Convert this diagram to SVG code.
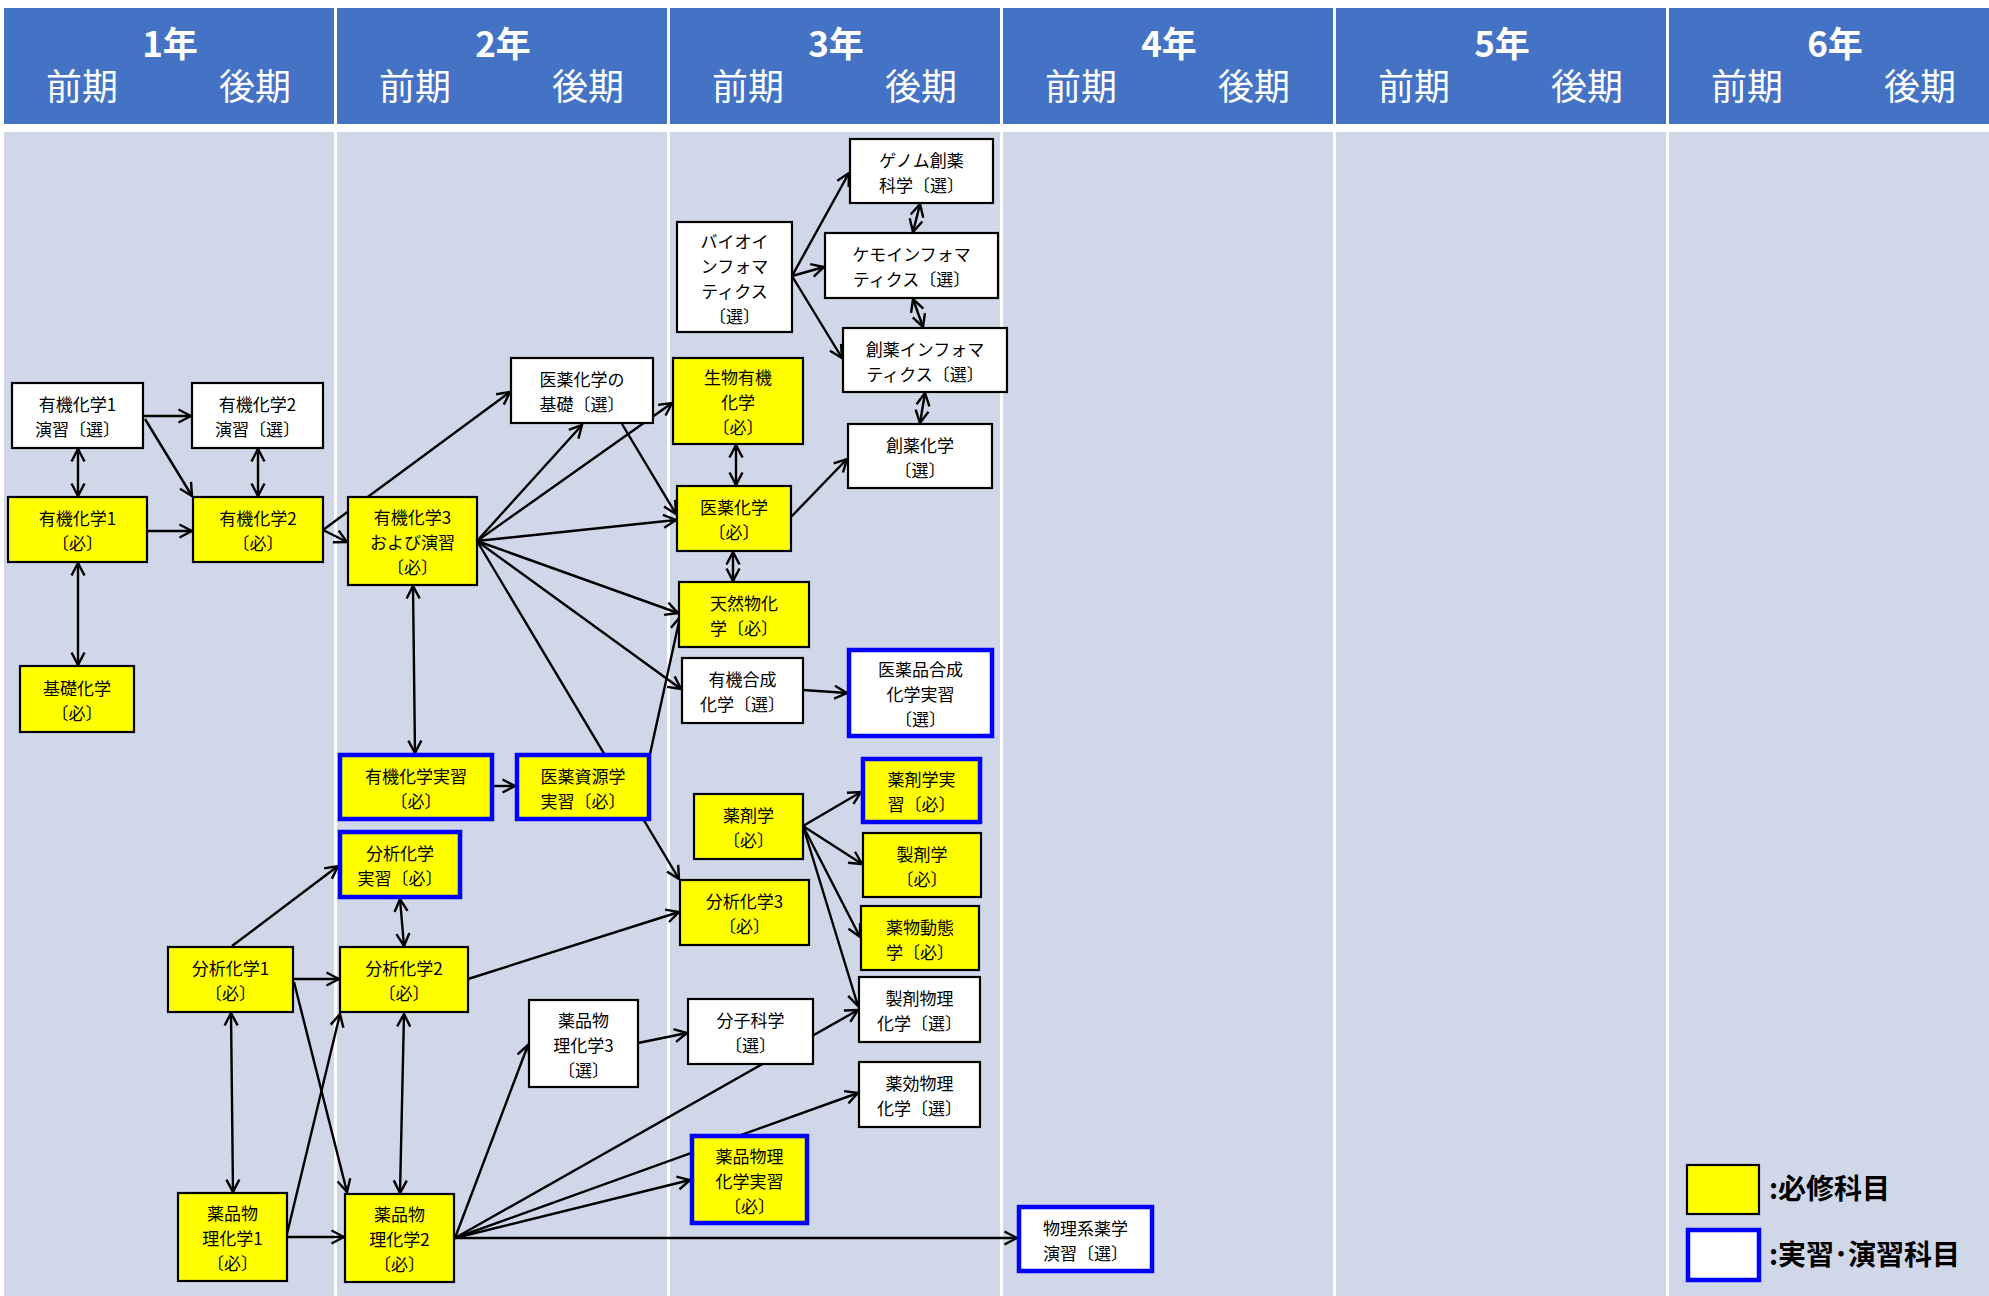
<svg xmlns="http://www.w3.org/2000/svg" width="1989" height="1296" viewBox="0 0 1989 1296">
<style>
.hd{fill:#4472C4}
.bd{fill:#D0D7E8}
.ht{font-family:"Noto Sans CJK JP","Noto Sans",sans-serif;fill:#fff;text-anchor:middle}
.n rect{stroke:#000;stroke-width:2.2}
.req rect{fill:#FFFF00}
.opt rect{fill:#fff}
.prac rect{stroke:#0000FF;stroke-width:4.5}
.n text{font-family:"Noto Sans CJK JP","Noto Sans",sans-serif;font-size:17px;fill:#000;text-anchor:middle;dominant-baseline:central}
#connectors line{stroke:#000;stroke-width:2.4;fill:none}
.a{marker-end:url(#ah)}
.d{marker-start:url(#ah);marker-end:url(#ah)}
.lg{font-family:"Noto Sans CJK JP","Noto Sans",sans-serif;font-size:28px;font-weight:bold;fill:#000}
</style>
<defs>
<marker id="ah" viewBox="0 0 16 16" refX="14" refY="8" markerWidth="16" markerHeight="16" markerUnits="userSpaceOnUse" orient="auto-start-reverse">
<path d="M1.5,1.5 L14,8 L1.5,14.5" fill="none" stroke="#000" stroke-width="2.4"/>
</marker>
</defs>
<rect width="1989" height="1296" fill="#fff"/>
<g id="table">
<rect class="hd" x="4" y="8" width="330" height="116"/>
<rect class="hd" x="337" y="8" width="330" height="116"/>
<rect class="hd" x="670" y="8" width="330" height="116"/>
<rect class="hd" x="1003" y="8" width="330" height="116"/>
<rect class="hd" x="1336" y="8" width="330" height="116"/>
<rect class="hd" x="1669" y="8" width="320" height="116"/>
<rect class="bd" x="4" y="132" width="330" height="1164"/>
<rect class="bd" x="337" y="132" width="330" height="1164"/>
<rect class="bd" x="670" y="132" width="330" height="1164"/>
<rect class="bd" x="1003" y="132" width="330" height="1164"/>
<rect class="bd" x="1336" y="132" width="330" height="1164"/>
<rect class="bd" x="1669" y="132" width="320" height="1164"/>
<g class="ht" font-size="35" font-weight="bold">
<text x="170" y="57">1年</text>
<text x="503" y="57">2年</text>
<text x="836" y="57">3年</text>
<text x="1169" y="57">4年</text>
<text x="1502" y="57">5年</text>
<text x="1835" y="57">6年</text>
</g>
<g class="ht" font-size="36">
<text x="82" y="100">前期</text><text x="255" y="100">後期</text>
<text x="415" y="100">前期</text><text x="588" y="100">後期</text>
<text x="748" y="100">前期</text><text x="921" y="100">後期</text>
<text x="1081" y="100">前期</text><text x="1254" y="100">後期</text>
<text x="1414" y="100">前期</text><text x="1587" y="100">後期</text>
<text x="1747" y="100">前期</text><text x="1920" y="100">後期</text>
</g>
</g>
<g id="connectors">
<line class="a" x1="143" y1="416" x2="191" y2="416"/>
<line class="a" x1="145" y1="419" x2="192" y2="496"/>
<line class="d" x1="78" y1="449" x2="78" y2="496"/>
<line class="d" x1="258" y1="449" x2="258" y2="496"/>
<line class="a" x1="147" y1="531" x2="192" y2="531"/>
<line class="d" x1="78" y1="563" x2="78" y2="665"/>
<line class="a" x1="323" y1="530" x2="510" y2="392"/>
<line class="a" x1="323" y1="530" x2="347" y2="542"/>
<line class="a" x1="477" y1="541" x2="582" y2="425"/>
<line class="a" x1="477" y1="541" x2="672" y2="403"/>
<line class="a" x1="477" y1="541" x2="676" y2="520"/>
<line class="a" x1="622" y1="424" x2="676" y2="514"/>
<line class="a" x1="477" y1="541" x2="678" y2="613"/>
<line class="a" x1="477" y1="541" x2="681" y2="689"/>
<line class="a" x1="477" y1="541" x2="679" y2="879"/>
<line class="a" x1="650" y1="754" x2="680" y2="617"/>
<line class="a" x1="493" y1="786" x2="515" y2="786"/>
<line class="d" x1="413" y1="586" x2="415" y2="753"/>
<line class="d" x1="736" y1="445" x2="736" y2="485"/>
<line class="d" x1="733" y1="552" x2="733" y2="581"/>
<line class="a" x1="791" y1="517" x2="847" y2="459"/>
<line class="a" x1="792" y1="276" x2="849" y2="173"/>
<line class="a" x1="792" y1="276" x2="824" y2="267"/>
<line class="a" x1="792" y1="276" x2="842" y2="358"/>
<line class="d" x1="920" y1="204" x2="913" y2="232"/>
<line class="d" x1="913" y1="299" x2="923" y2="327"/>
<line class="d" x1="925" y1="393" x2="920" y2="423"/>
<line class="a" x1="803" y1="690" x2="847" y2="693"/>
<line class="a" x1="803" y1="826" x2="861" y2="792"/>
<line class="a" x1="803" y1="826" x2="862" y2="864"/>
<line class="a" x1="803" y1="826" x2="860" y2="937"/>
<line class="a" x1="803" y1="826" x2="858" y2="1006"/>
<line class="a" x1="468" y1="979" x2="679" y2="912"/>
<line class="a" x1="232" y1="946" x2="338" y2="866"/>
<line class="d" x1="400" y1="899" x2="404" y2="946"/>
<line class="a" x1="293" y1="979" x2="339" y2="979"/>
<line class="d" x1="231" y1="1013" x2="233" y2="1192"/>
<line class="a" x1="294" y1="982" x2="347" y2="1192"/>
<line class="a" x1="287" y1="1234" x2="340" y2="1014"/>
<line class="d" x1="404" y1="1014" x2="400" y2="1193"/>
<line class="a" x1="287" y1="1237" x2="344" y2="1237"/>
<line class="a" x1="455" y1="1238" x2="528" y2="1045"/>
<line class="a" x1="455" y1="1238" x2="858" y2="1010"/>
<line class="a" x1="638" y1="1043" x2="687" y2="1033"/>
<line class="a" x1="455" y1="1238" x2="858" y2="1093"/>
<line class="a" x1="455" y1="1238" x2="690" y2="1180"/>
<line class="a" x1="455" y1="1238" x2="1017" y2="1238"/>
</g>
<g id="n1" class="n opt"><rect x="12" y="383" width="131" height="65"/><text><tspan x="77.5" y="403">有機化学1</tspan><tspan x="77.5" y="428">演習〔選〕</tspan></text></g>
<g id="n2" class="n opt"><rect x="192" y="383" width="131" height="65"/><text><tspan x="257.5" y="403">有機化学2</tspan><tspan x="257.5" y="428">演習〔選〕</tspan></text></g>
<g id="n3" class="n req"><rect x="8" y="497" width="139" height="65"/><text><tspan x="77.5" y="517">有機化学1</tspan><tspan x="77.5" y="542">〔必〕</tspan></text></g>
<g id="n4" class="n req"><rect x="193" y="497" width="130" height="65"/><text><tspan x="258" y="517">有機化学2</tspan><tspan x="258" y="542">〔必〕</tspan></text></g>
<g id="n5" class="n req"><rect x="20" y="666" width="114" height="66"/><text><tspan x="77" y="686.5">基礎化学</tspan><tspan x="77" y="711.5">〔必〕</tspan></text></g>
<g id="n6" class="n req"><rect x="348" y="497" width="129" height="88"/><text><tspan x="412.5" y="516">有機化学3</tspan><tspan x="412.5" y="541">および演習</tspan><tspan x="412.5" y="566">〔必〕</tspan></text></g>
<g id="n7" class="n opt"><rect x="511" y="358" width="142" height="65"/><text><tspan x="582" y="378">医薬化学の</tspan><tspan x="582" y="403">基礎〔選〕</tspan></text></g>
<g id="n8" class="n req prac"><rect x="340" y="755" width="152" height="64"/><text><tspan x="416" y="774.5">有機化学実習</tspan><tspan x="416" y="799.5">〔必〕</tspan></text></g>
<g id="n9" class="n req prac"><rect x="517" y="755" width="132" height="64"/><text><tspan x="583" y="774.5">医薬資源学</tspan><tspan x="583" y="799.5">実習〔必〕</tspan></text></g>
<g id="n10" class="n req prac"><rect x="340" y="832" width="120" height="65"/><text><tspan x="400" y="852">分析化学</tspan><tspan x="400" y="877">実習〔必〕</tspan></text></g>
<g id="n11" class="n req"><rect x="168" y="947" width="125" height="65"/><text><tspan x="230.5" y="967">分析化学1</tspan><tspan x="230.5" y="992">〔必〕</tspan></text></g>
<g id="n12" class="n req"><rect x="340" y="947" width="128" height="65"/><text><tspan x="404" y="967">分析化学2</tspan><tspan x="404" y="992">〔必〕</tspan></text></g>
<g id="n13" class="n req"><rect x="178" y="1193" width="109" height="88"/><text><tspan x="232.5" y="1212">薬品物</tspan><tspan x="232.5" y="1237">理化学1</tspan><tspan x="232.5" y="1262">〔必〕</tspan></text></g>
<g id="n14" class="n req"><rect x="345" y="1194" width="109" height="88"/><text><tspan x="399.5" y="1213">薬品物</tspan><tspan x="399.5" y="1238">理化学2</tspan><tspan x="399.5" y="1263">〔必〕</tspan></text></g>
<g id="n15" class="n opt"><rect x="529" y="1000" width="109" height="87"/><text><tspan x="583.5" y="1018.5">薬品物</tspan><tspan x="583.5" y="1043.5">理化学3</tspan><tspan x="583.5" y="1068.5">〔選〕</tspan></text></g>
<g id="n16" class="n opt"><rect x="677" y="222" width="115" height="110"/><text><tspan x="734.5" y="239.5">バイオイ</tspan><tspan x="734.5" y="264.5">ンフォマ</tspan><tspan x="734.5" y="289.5">ティクス</tspan><tspan x="734.5" y="314.5">〔選〕</tspan></text></g>
<g id="n17" class="n opt"><rect x="850" y="139" width="143" height="64"/><text><tspan x="921.5" y="158.5">ゲノム創薬</tspan><tspan x="921.5" y="183.5">科学〔選〕</tspan></text></g>
<g id="n18" class="n opt"><rect x="825" y="233" width="173" height="65"/><text><tspan x="911.5" y="253">ケモインフォマ</tspan><tspan x="911.5" y="278">ティクス〔選〕</tspan></text></g>
<g id="n19" class="n opt"><rect x="843" y="328" width="164" height="64"/><text><tspan x="925" y="347.5">創薬インフォマ</tspan><tspan x="925" y="372.5">ティクス〔選〕</tspan></text></g>
<g id="n20" class="n opt"><rect x="848" y="424" width="144" height="64"/><text><tspan x="920" y="443.5">創薬化学</tspan><tspan x="920" y="468.5">〔選〕</tspan></text></g>
<g id="n21" class="n req"><rect x="673" y="358" width="130" height="86"/><text><tspan x="738" y="376">生物有機</tspan><tspan x="738" y="401">化学</tspan><tspan x="738" y="426">〔必〕</tspan></text></g>
<g id="n22" class="n req"><rect x="677" y="486" width="114" height="65"/><text><tspan x="734" y="506">医薬化学</tspan><tspan x="734" y="531">〔必〕</tspan></text></g>
<g id="n23" class="n req"><rect x="679" y="582" width="130" height="65"/><text><tspan x="744" y="602">天然物化</tspan><tspan x="744" y="627">学〔必〕</tspan></text></g>
<g id="n24" class="n opt"><rect x="682" y="658" width="121" height="65"/><text><tspan x="742.5" y="678">有機合成</tspan><tspan x="742.5" y="703">化学〔選〕</tspan></text></g>
<g id="n25" class="n opt prac"><rect x="849" y="650" width="143" height="86"/><text><tspan x="920.5" y="668">医薬品合成</tspan><tspan x="920.5" y="693">化学実習</tspan><tspan x="920.5" y="718">〔選〕</tspan></text></g>
<g id="n26" class="n req"><rect x="694" y="794" width="109" height="65"/><text><tspan x="748.5" y="814">薬剤学</tspan><tspan x="748.5" y="839">〔必〕</tspan></text></g>
<g id="n27" class="n req prac"><rect x="863" y="759" width="117" height="63"/><text><tspan x="921.5" y="778">薬剤学実</tspan><tspan x="921.5" y="803">習〔必〕</tspan></text></g>
<g id="n28" class="n req"><rect x="863" y="833" width="118" height="64"/><text><tspan x="922" y="852.5">製剤学</tspan><tspan x="922" y="877.5">〔必〕</tspan></text></g>
<g id="n29" class="n req"><rect x="680" y="880" width="129" height="65"/><text><tspan x="744.5" y="900">分析化学3</tspan><tspan x="744.5" y="925">〔必〕</tspan></text></g>
<g id="n30" class="n req"><rect x="861" y="906" width="118" height="64"/><text><tspan x="920" y="925.5">薬物動態</tspan><tspan x="920" y="950.5">学〔必〕</tspan></text></g>
<g id="n31" class="n opt"><rect x="859" y="977" width="121" height="65"/><text><tspan x="919.5" y="997">製剤物理</tspan><tspan x="919.5" y="1022">化学〔選〕</tspan></text></g>
<g id="n32" class="n opt"><rect x="688" y="999" width="125" height="65"/><text><tspan x="750.5" y="1019">分子科学</tspan><tspan x="750.5" y="1044">〔選〕</tspan></text></g>
<g id="n33" class="n opt"><rect x="859" y="1062" width="121" height="65"/><text><tspan x="919.5" y="1082">薬効物理</tspan><tspan x="919.5" y="1107">化学〔選〕</tspan></text></g>
<g id="n34" class="n req prac"><rect x="692" y="1136" width="115" height="87"/><text><tspan x="749.5" y="1154.5">薬品物理</tspan><tspan x="749.5" y="1179.5">化学実習</tspan><tspan x="749.5" y="1204.5">〔必〕</tspan></text></g>
<g id="n35" class="n opt prac"><rect x="1019" y="1207" width="133" height="64"/><text><tspan x="1085.5" y="1226.5">物理系薬学</tspan><tspan x="1085.5" y="1251.5">演習〔選〕</tspan></text></g>
<g id="legend">
<rect x="1687" y="1165" width="72" height="49" fill="#FFFF00" stroke="#000" stroke-width="2.2"/>
<rect x="1688" y="1230" width="71" height="50" fill="#fff" stroke="#0000FF" stroke-width="4.5"/>
<text class="lg" x="1769" y="1199">:必修科目</text>
<text class="lg" x="1769" y="1265">:実習･演習科目</text>
</g>
</svg>
